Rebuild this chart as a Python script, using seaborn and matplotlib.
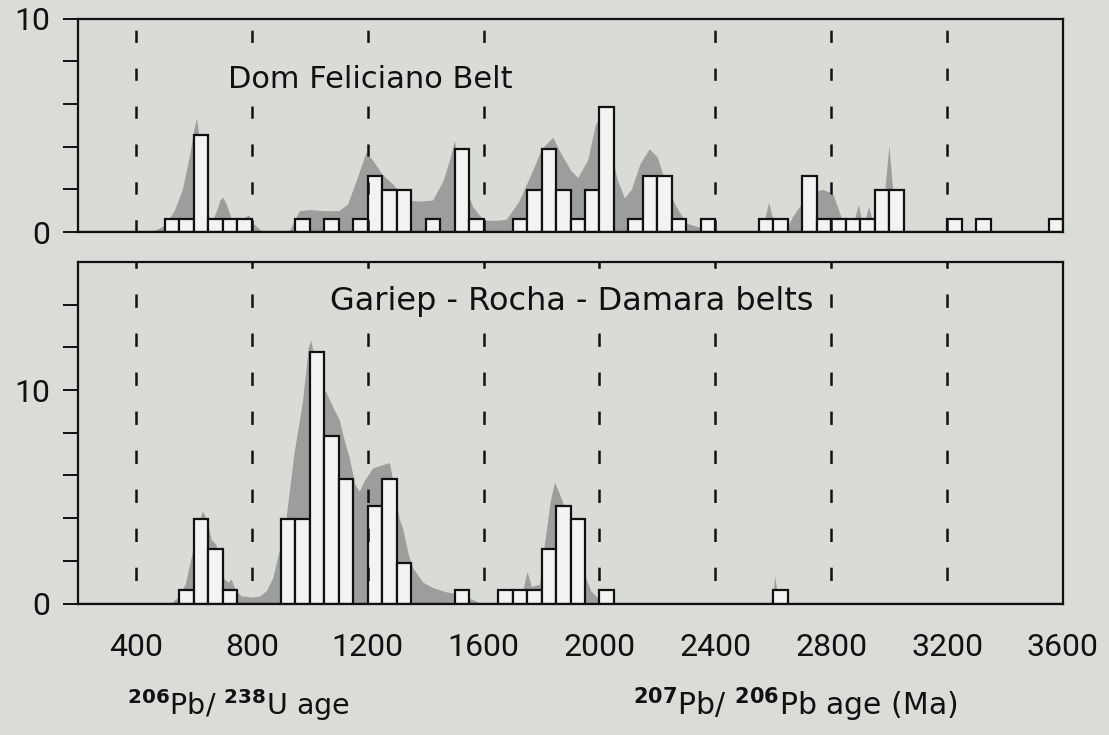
import numpy as np
import pandas as pd
import matplotlib
matplotlib.use("Agg")
import matplotlib.pyplot as plt
import seaborn as sns

# ---------------------------------------------------------------------------
# Data
# ---------------------------------------------------------------------------
BIN = 50                      # histogram bin width (Ma)
AGE_MIN, AGE_MAX = 200, 3600

# Dom Feliciano Belt: histogram (lower bin edge in Ma, bar height)
dfb_bin_ages = [500, 550, 600, 650, 700, 750, 950, 1050, 1150, 1200, 1250,
                1300, 1400, 1500, 1550, 1700, 1750, 1800, 1850, 1900, 1950,
                2000, 2100, 2150, 2200, 2250, 2350, 2550, 2600, 2700, 2750,
                2800, 2850, 2900, 2950, 3000, 3200, 3300, 3550]
dfb_bin_heights = [0.62, 0.62, 4.55, 0.62, 0.62, 0.62, 0.62, 0.62, 0.62, 2.6,
                   1.95, 1.95, 0.62, 3.9, 0.62, 0.62, 1.95, 3.9, 1.95, 0.62,
                   1.95, 5.85, 0.62, 2.6, 2.6, 0.62, 0.62, 0.62, 0.62, 2.6,
                   0.62, 0.62, 0.62, 0.62, 1.95, 1.95, 0.62, 0.62, 0.62]

# Dom Feliciano Belt: relative probability curve
dfb_curve_ages = [440, 470, 500, 532, 560, 585, 600, 609, 620, 635, 650, 662,
                  678, 690, 700, 712, 730, 757, 775, 790, 805, 837,
                  900, 929, 964, 1000, 1050, 1100, 1130, 1160, 1194, 1215,
                  1250, 1286, 1320, 1344, 1380, 1424, 1460, 1485, 1499, 1515,
                  1540, 1562, 1585, 1603, 1650, 1678, 1720, 1760, 1800, 1839,
                  1862, 1900, 1925, 1960, 1985, 2011, 2030, 2060, 2086, 2110,
                  2140, 2172, 2200, 2230, 2260, 2299, 2340, 2400, 2437,
                  2555, 2570, 2584, 2598, 2612,
                  2640, 2665, 2713, 2740, 2771, 2805, 2834, 2851, 2880, 2894,
                  2905, 2915, 2929, 2945, 2970, 2985, 2999, 3012, 3025, 3040]
dfb_curve_vals = [0.0, 0.1, 0.35, 1.0, 2.0, 3.6, 4.8, 5.35, 4.2, 2.0, 0.8, 0.5,
                  1.0, 1.5, 1.64, 1.3, 0.6, 0.35, 0.7, 0.8, 0.4, 0.0,
                  0.0, 0.05, 1.0, 1.05, 1.0, 1.0, 1.3, 2.4, 3.74, 3.4,
                  2.7, 2.25, 1.7, 1.48, 1.45, 1.5, 2.4, 3.5, 4.28, 3.2,
                  2.0, 1.2, 0.8, 0.55, 0.55, 0.6, 1.4, 2.6, 3.9, 4.44,
                  3.8, 2.9, 2.55, 3.4, 5.0, 5.69, 4.5, 2.5, 1.6, 2.0,
                  3.2, 3.9, 3.5, 2.2, 1.3, 0.42, 0.25, 0.05, 0.0,
                  0.0, 0.6, 1.4, 0.6, 0.0,
                  0.0, 0.7, 1.64, 1.9, 2.0, 1.8, 0.7, 0.25, 0.6, 1.3,
                  0.5, 0.5, 1.2, 0.4, 0.3, 2.0, 4.05, 2.0, 0.2, 0.0]

# Gariep - Rocha - Damara belts: histogram
grd_bin_ages = [550, 600, 650, 700, 900, 950, 1000, 1050, 1100, 1200, 1250,
                1300, 1500, 1650, 1700, 1750, 1800, 1850, 1900, 2000, 2600]
grd_bin_heights = [0.62, 3.94, 2.57, 0.62, 3.94, 3.94, 11.8, 7.87, 5.84, 4.56,
                   5.84, 1.92, 0.62, 0.62, 0.62, 0.62, 2.57, 4.56, 3.94, 0.62,
                   0.62]

# Gariep - Rocha - Damara belts: relative probability curve
grd_curve_ages = [520, 545, 570, 596, 615, 630, 645, 660, 676, 690, 705, 718,
                  728, 745, 763, 800, 826, 850, 872, 895, 918, 945, 975, 995,
                  1003, 1015, 1040, 1056, 1080, 1102, 1120, 1137, 1155, 1171,
                  1190, 1217, 1250, 1275, 1290, 1308, 1321, 1340, 1355, 1390,
                  1424, 1470, 1516, 1550, 1585, 1600,
                  1710, 1735, 1750, 1765, 1793, 1810, 1830, 1845, 1860, 1880,
                  1896, 1915, 1935, 1950, 1970, 1995, 2030,
                  2590, 2600, 2605, 2612, 2625]
grd_curve_vals = [0.0, 0.3, 0.9, 2.5, 3.8, 4.33, 3.9, 3.0, 2.77, 1.8, 1.14, 1.0,
                  1.14, 0.6, 0.36, 0.3, 0.35, 0.6, 1.2, 2.5, 4.0, 7.0, 9.5, 12.0,
                  12.35, 11.6, 10.2, 9.9, 9.2, 8.6, 7.6, 6.8, 5.6, 5.26,
                  5.8, 6.35, 6.5, 6.6, 5.5, 4.0, 3.5, 2.3, 1.68, 1.0,
                  0.75, 0.55, 0.44, 0.25, 0.05, 0.0,
                  0.0, 0.6, 1.5, 0.8, 0.9, 2.8, 4.8, 5.7, 5.2, 4.5,
                  4.3, 3.7, 2.2, 1.3, 0.6, 0.25, 0.0,
                  0.0, 0.6, 1.3, 0.6, 0.0]

x_tick_values = [400, 800, 1200, 1600, 2000, 2400, 2800, 3200, 3600]
x_tick_marks = [400, 800, 1200, 1600, 2000, 2800, 3200]
dfb_dashed = [400, 800, 1200, 1600, 2400, 2800, 3200]
grd_dashed = [400, 800, 1200, 1600, 2000, 2400, 2800, 3200]

# ---------------------------------------------------------------------------
# Style
# ---------------------------------------------------------------------------
sns.set_theme(style="ticks")
BG = "#dadcd8"
PANEL = "#d9dbd7"
CURVE = "#9c9e9b"
BAR = "#f3f3f1"
INK = "#111111"
plt.rcParams.update({
    "font.family": ["Roboto", "DejaVu Sans"],
    "lines.scale_dashes": False,
    "axes.linewidth": 1.6,
    "axes.edgecolor": INK,
    "mathtext.fontset": "custom",
    "mathtext.rm": "DejaVu Sans",
    "mathtext.bf": "DejaVu Sans:bold",
})

fig = plt.figure(figsize=(11.09, 7.35), dpi=100, facecolor=BG)
W, H = 1109, 735
left, right = 78, 1063
ax_top = fig.add_axes([left / W, 1 - 232 / H, (right - left) / W, (232 - 18.5) / H])
ax_bot = fig.add_axes([left / W, 1 - 603.5 / H, (right - left) / W, (603.5 - 262) / H])


def draw_panel(ax, bin_ages, bin_heights, curve_ages, curve_vals, dashed, ymax,
               yticks, ylabels, title, title_xy, title_size, dash_style):
    ax.set_facecolor(PANEL)
    ax.fill_between(curve_ages, 0, curve_vals, color=CURVE, lw=0, zorder=1)
    hist_df = pd.DataFrame({"age": bin_ages, "height": bin_heights})
    sns.histplot(data=hist_df, x="age", weights="height", binwidth=BIN,
                 binrange=(AGE_MIN, AGE_MAX), stat="count", element="bars",
                 fill=True, color=BAR, edgecolor=INK, linewidth=1.6, alpha=1,
                 ax=ax, zorder=3)
    for xd in dashed:
        ax.axvline(xd, color=INK, lw=1.8, ls=dash_style, zorder=4)
    ax.text(title_xy[0], title_xy[1], title, transform=ax.transAxes,
            fontsize=title_size, color=INK, family=["DejaVu Sans"],
            va="baseline", zorder=6,
            bbox=dict(boxstyle="square,pad=0.05", fc=PANEL, ec="none"))
    ax.set_xlim(AGE_MIN, AGE_MAX)
    ax.set_ylim(0, ymax)
    ax.set_yticks(yticks)
    ax.set_yticklabels(ylabels)
    ax.tick_params(axis="y", direction="out", length=11, width=1.4,
                   pad=9, labelsize=23, colors=INK)
    ax.set_xlabel("")
    ax.set_ylabel("")
    for s in ax.spines.values():
        s.set_visible(True)
        s.set_zorder(5)


draw_panel(ax_top, dfb_bin_ages, dfb_bin_heights, dfb_curve_ages, dfb_curve_vals,
           dfb_dashed, 10, [0, 2, 4, 6, 8, 10], ["0", "", "", "", "", "10"],
           "Dom Feliciano Belt", (0.1523, 0.6745), 22, (0, (8.8, 18.5)))
draw_panel(ax_bot, grd_bin_ages, grd_bin_heights, grd_curve_ages, grd_curve_vals,
           grd_dashed, 16, [0, 2, 4, 6, 8, 10, 12, 14],
           ["0", "", "", "", "", "10", "", ""],
           "Gariep - Rocha - Damara belts", (0.2558, 0.8594), 23,
           (11.2, (9.6, 18.5)))

ax_top.set_xticks([])
ax_bot.set_xticks(x_tick_values)
ax_bot.set_xticklabels([str(v) for v in x_tick_values])
ax_bot.set_xticks(x_tick_marks, minor=True)
ax_bot.tick_params(axis="x", which="major", length=0, pad=21, labelsize=23,
                   colors=INK)
ax_bot.tick_params(axis="x", which="minor", direction="out", length=11,
                   width=1.4, colors=INK)

fig.text(127 / W, 1 - 715 / H, r"$^{\mathbf{206}}$Pb/ $^{\mathbf{238}}$U age",
         fontsize=20.5, color=INK, family=["DejaVu Sans"], va="baseline")
fig.text(633 / W, 1 - 715 / H,
         r"$^{\mathbf{207}}$Pb/ $^{\mathbf{206}}$Pb age (Ma)",
         fontsize=21.5, color=INK, family=["DejaVu Sans"], va="baseline")

fig.savefig("out.png", dpi=100, facecolor=BG)
